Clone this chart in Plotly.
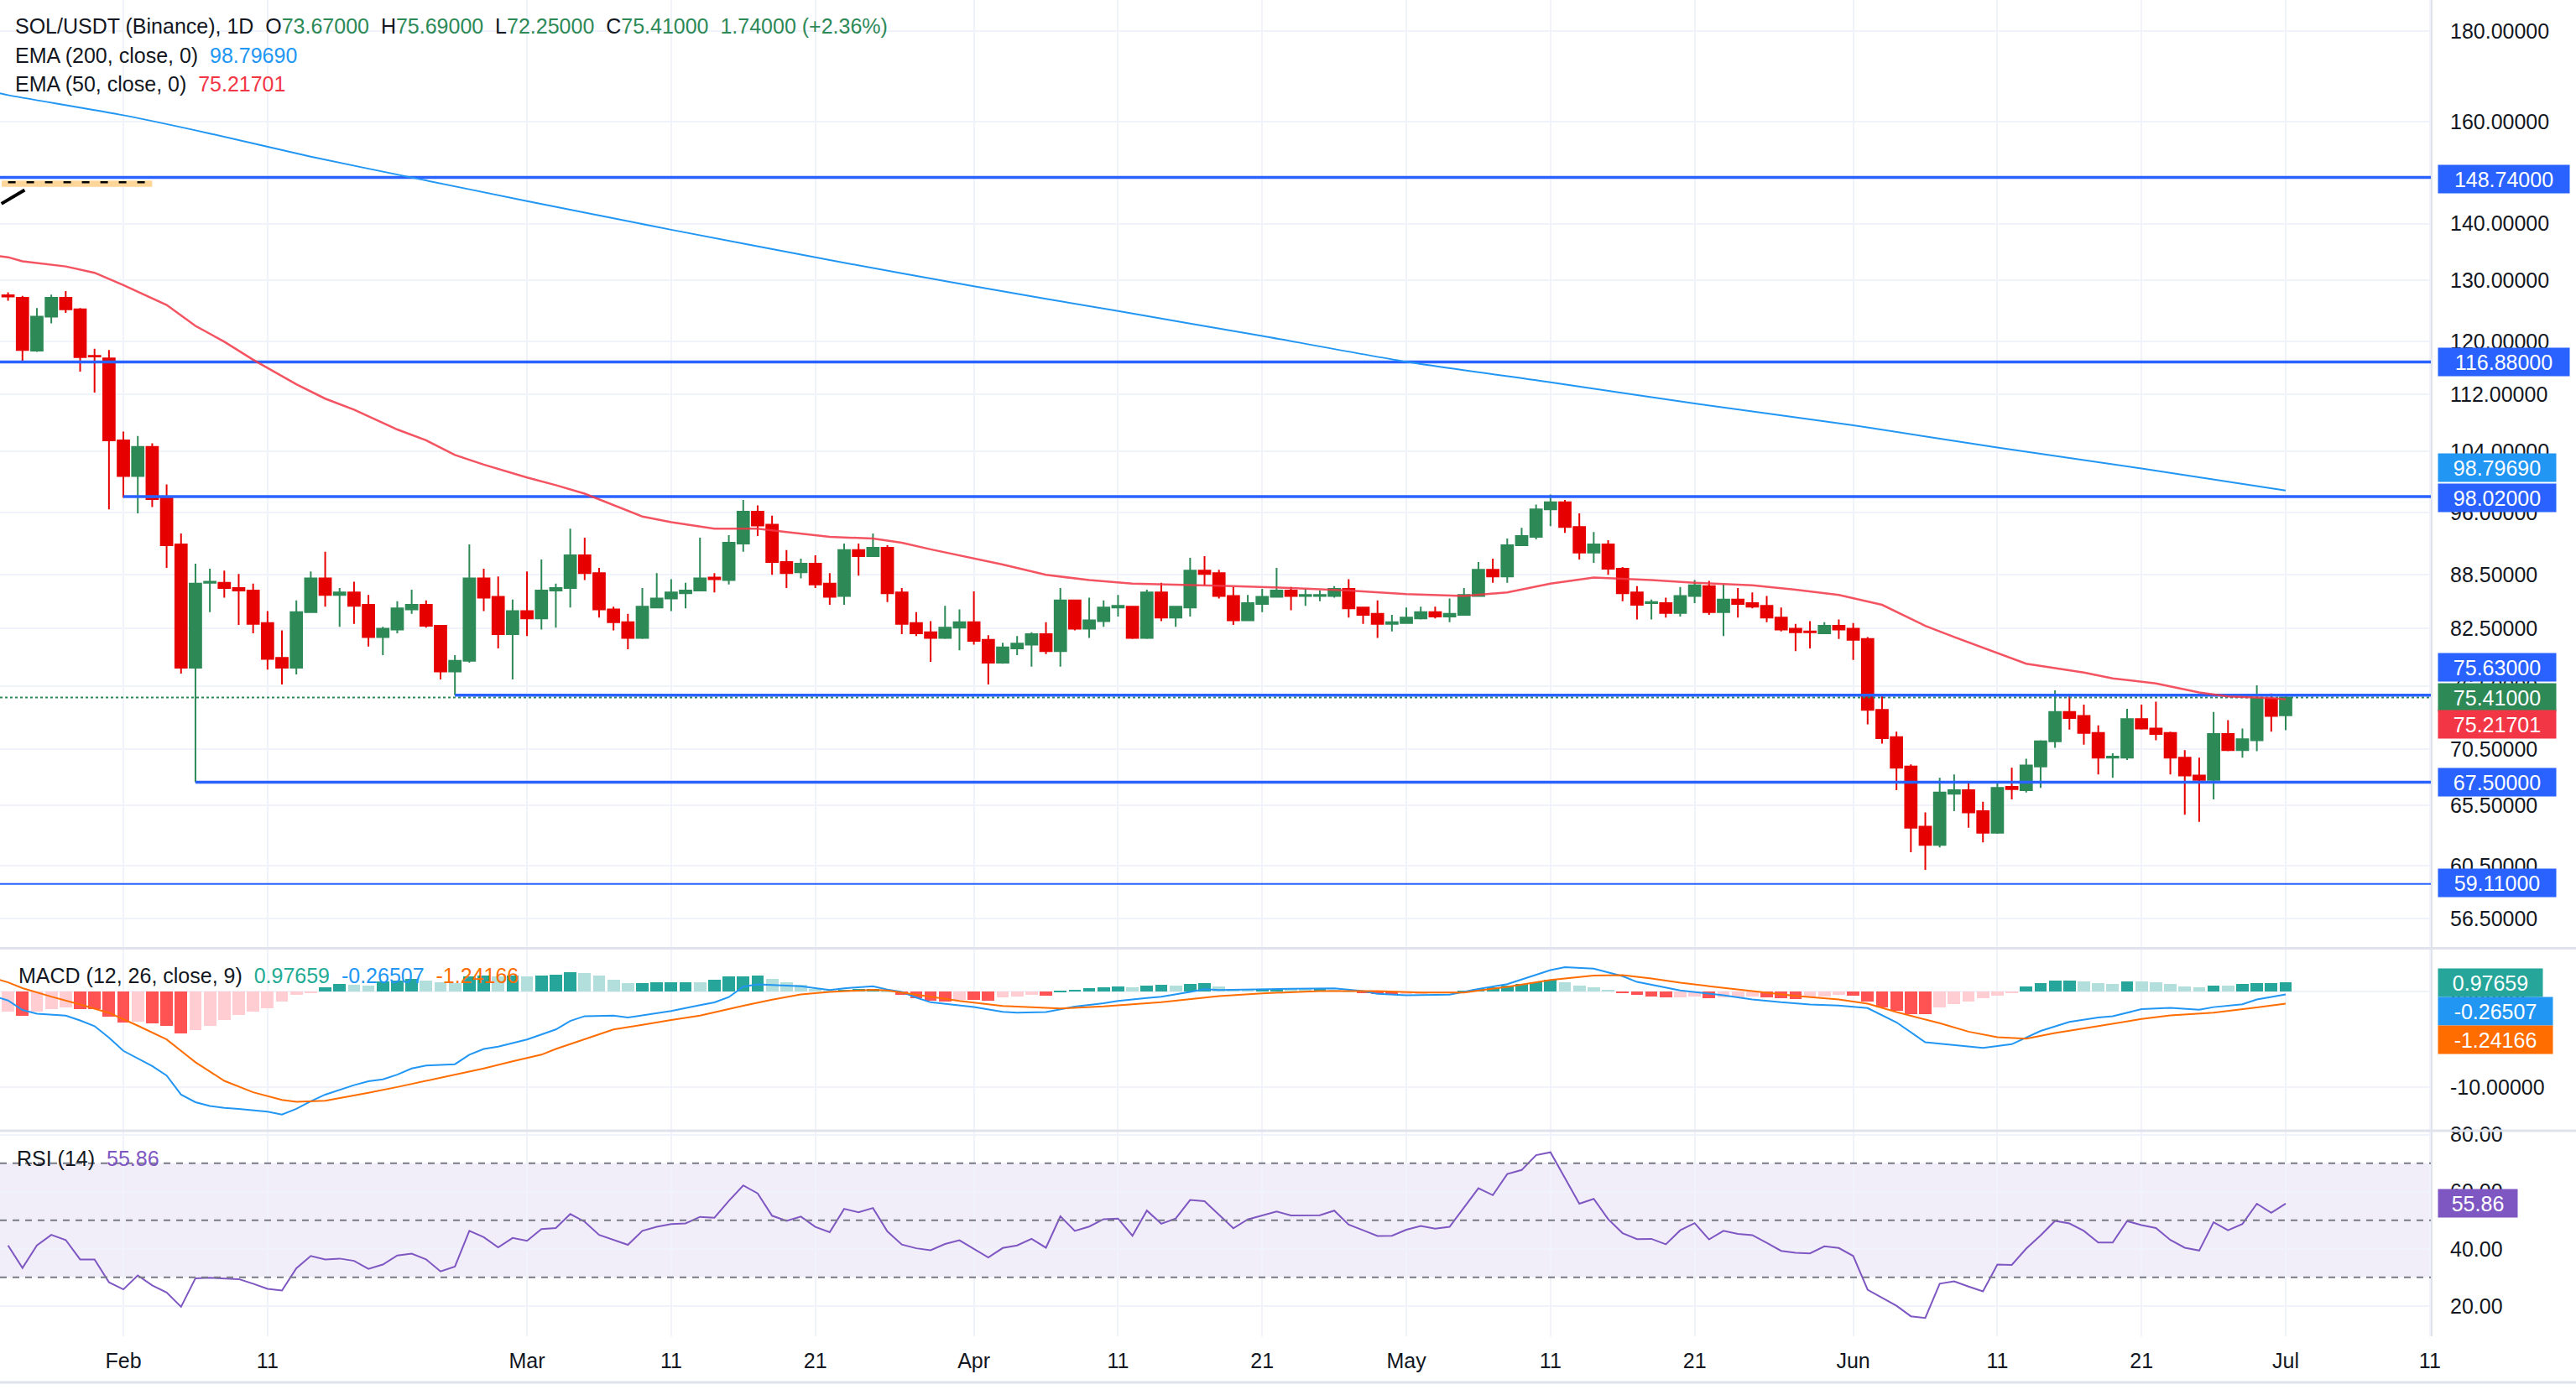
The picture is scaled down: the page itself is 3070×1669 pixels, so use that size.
import math
import pandas as pd
import plotly.graph_objects as go

START = pd.Timestamp("2026-01-24")

# ---------------- OHLC (daily, from 2026-01-24) ----------------
opens = [127.5, 127.1, 118.6, 124.0, 127.1, 125.2, 117.8, 117.4, 105.5, 100.7,
         104.6, 97.8, 92.1, 78.4, 87.6, 87.6, 87.0, 86.7, 83.1, 79.4,
         78.4, 84.3, 88.1, 86.2, 86.5, 85.1, 81.6, 82.4, 84.6, 85.1,
         82.8, 78.0, 79.1, 88.1, 86.0, 81.9, 84.4, 83.6, 86.7, 87.0,
         90.8, 88.7, 84.6, 83.2, 81.5, 84.8, 85.8, 86.4, 86.7, 88.2,
         87.9, 92.2, 96.1, 94.5, 90.0, 88.8, 89.8, 87.5, 86.1, 91.4,
         90.7, 91.7, 86.5, 83.1, 82.1, 81.5, 82.6, 83.2, 81.3, 78.9,
         80.4, 80.8, 81.9, 80.1, 85.6, 82.5, 83.3, 84.8, 84.9, 81.5,
         86.5, 83.7, 84.8, 89.0, 88.7, 86.1, 83.4, 85.2, 86.0, 86.7,
         86.1, 86.1, 86.1, 86.9, 84.8, 84.1, 83.0, 83.1, 83.6, 84.3,
         83.8, 84.0, 86.1, 89.1, 88.3, 92.0, 93.0, 96.4, 97.3, 94.2,
         91.1, 92.1, 89.2, 86.5, 85.3, 85.3, 84.2, 86.1, 87.2, 84.3,
         85.7, 85.3, 85.0, 83.7, 82.5, 82.2, 82.0, 82.8, 82.5, 81.4,
         74.2, 71.6, 68.9, 63.7, 62.2, 66.5, 66.8, 65.0, 63.2, 67.1,
         66.8, 68.9, 71.2, 74.0, 73.6, 72.0, 69.7, 69.7, 73.3, 72.4,
         72.0, 69.7, 68.1, 67.7, 71.9, 70.4, 71.3, 75.3, 73.67]
highs = [128.0, 127.4, 125.4, 127.6, 128.2, 125.4, 118.9, 118.7, 106.7, 106.1,
         105.1, 99.6, 93.4, 89.8, 89.2, 89.0, 88.6, 87.5, 84.4, 82.3,
         85.6, 88.9, 91.2, 87.0, 87.7, 86.2, 82.7, 85.5, 86.8, 85.6,
         82.9, 79.7, 92.1, 89.2, 88.3, 85.7, 88.9, 90.3, 87.5, 94.0,
         92.9, 89.3, 84.9, 84.1, 87.0, 88.7, 88.0, 87.6, 92.9, 88.7,
         93.2, 97.6, 96.9, 95.6, 91.4, 90.4, 90.8, 88.7, 92.2, 92.2,
         93.4, 92.0, 87.0, 84.3, 83.3, 85.0, 84.6, 86.6, 81.8, 81.0,
         81.7, 82.1, 83.2, 87.0, 85.7, 85.9, 85.6, 86.2, 85.0, 86.8,
         87.6, 84.95, 90.5, 90.7, 89.1, 87.1, 86.2, 86.9, 89.3, 87.1,
         86.9, 86.7, 87.2, 88.0, 84.9, 85.6, 84.0, 84.8, 84.9, 84.9,
         85.8, 87.0, 90.0, 90.4, 92.8, 94.1, 97.0, 98.3, 97.6, 95.9,
         93.6, 92.6, 89.4, 87.2, 85.7, 85.9, 87.1, 87.9, 87.8, 87.4,
         87.0, 86.5, 86.1, 84.8, 83.0, 83.3, 83.2, 83.5, 83.1, 81.6,
         75.7, 72.1, 69.1, 64.9, 67.9, 68.2, 67.5, 65.8, 67.5, 68.8,
         69.6, 71.3, 76.1, 75.6, 74.7, 72.7, 70.1, 74.3, 74.7, 75.0,
         72.1, 70.4, 69.7, 74.0, 73.2, 72.4, 76.6, 75.8, 75.69]
lows = [126.6, 117.0, 118.4, 122.9, 124.6, 115.4, 112.3, 96.4, 97.9, 95.9,
        96.7, 89.3, 77.8, 67.5, 84.3, 85.9, 82.9, 82.0, 78.2, 76.7,
        77.7, 84.2, 84.9, 82.7, 83.0, 80.6, 79.7, 82.0, 84.1, 82.6,
        77.2, 75.63, 78.9, 84.4, 80.4, 77.2, 81.7, 82.4, 82.6, 84.8,
        87.9, 83.7, 82.3, 80.3, 81.4, 84.7, 84.4, 84.7, 86.6, 86.5,
        87.4, 91.2, 93.1, 88.5, 87.0, 88.1, 87.0, 85.1, 85.1, 88.4,
        90.6, 85.4, 81.9, 81.7, 79.0, 81.4, 80.2, 80.8, 76.7, 78.8,
        79.7, 78.5, 79.8, 78.5, 82.3, 81.5, 82.7, 83.8, 81.4, 81.4,
        83.3, 82.7, 83.8, 87.3, 85.8, 82.9, 83.3, 84.3, 85.9, 84.5,
        85.0, 85.5, 85.9, 83.7, 83.0, 81.5, 82.2, 83.0, 83.5, 83.6,
        83.2, 83.9, 86.0, 87.6, 87.6, 91.9, 92.7, 94.3, 93.5, 90.3,
        89.9, 88.5, 85.5, 83.5, 83.5, 83.7, 83.8, 85.3, 84.0, 81.7,
        83.7, 84.7, 83.2, 82.2, 80.1, 80.4, 81.9, 81.4, 79.2, 72.8,
        71.0, 66.8, 61.6, 60.2, 62.0, 65.0, 63.6, 62.4, 63.1, 66.0,
        66.6, 67.0, 70.6, 72.3, 70.9, 68.2, 67.9, 69.5, 72.3, 71.3,
        68.2, 64.7, 64.1, 66.0, 70.3, 69.7, 70.3, 72.1, 72.25]
closes = [127.3, 118.7, 124.0, 127.1, 125.2, 117.6, 117.7, 105.5, 100.7, 104.6,
          97.7, 92.0, 78.4, 87.5, 87.7, 87.0, 86.7, 83.0, 79.3, 78.4,
          84.3, 88.1, 86.2, 86.5, 85.0, 81.6, 82.5, 84.7, 85.1, 82.8,
          78.0, 79.1, 88.1, 85.9, 81.9, 84.4, 83.6, 86.7, 87.0, 90.8,
          88.7, 84.6, 83.2, 81.5, 84.9, 85.8, 86.5, 86.7, 88.1, 88.0,
          92.3, 96.1, 94.4, 90.0, 88.7, 89.8, 87.4, 86.0, 91.4, 90.7,
          91.7, 86.4, 83.0, 82.0, 81.5, 82.6, 83.2, 81.2, 78.9, 80.5,
          80.9, 81.9, 80.1, 85.6, 82.5, 83.4, 84.8, 85.0, 81.5, 86.5,
          83.7, 84.9, 89.0, 88.6, 86.1, 83.4, 85.3, 86.0, 86.7, 86.1,
          86.2, 86.2, 86.9, 84.7, 84.0, 83.0, 83.2, 83.7, 84.3, 83.8,
          84.1, 86.2, 89.1, 88.3, 92.0, 93.1, 96.4, 97.3, 94.2, 91.1,
          92.1, 89.2, 86.4, 85.1, 85.4, 84.2, 86.1, 87.3, 84.3, 85.7,
          85.2, 84.9, 83.7, 82.4, 82.1, 82.1, 82.8, 82.4, 81.3, 74.2,
          71.5, 68.8, 63.6, 62.2, 66.6, 66.8, 64.9, 63.2, 67.0, 66.9,
          69.0, 71.2, 74.0, 73.4, 72.0, 69.7, 69.8, 73.3, 72.4, 71.9,
          69.7, 68.1, 67.7, 71.9, 70.4, 71.4, 75.3, 73.6, 75.41]

# ---------------- EMA lines (day offset, value) ----------------
ema200_days = [-1, 0, 8, 14, 21, 28, 36, 46, 57, 67, 77, 87, 97, 107, 117, 128, 138, 148, 158]
ema200_vals = [166.3, 165.6, 161.3, 157.5, 152.8, 148.7, 144.2, 138.9, 133.5, 129.0,
               124.9, 120.9, 116.9, 113.8, 110.7, 107.6, 104.5, 101.7, 98.7969]
ema50_days = [-1, 0, 1, 4, 6, 8, 11, 13, 15, 17, 20, 22, 24, 27, 29, 31, 33, 36, 38, 40,
              44, 46, 49, 52, 54, 57, 60, 62, 64, 67, 69, 72, 75, 78, 81, 85, 89, 93, 97, 101,
              104, 107, 110, 114, 117, 121, 124, 127, 130, 133, 135, 138, 140, 144, 146, 149,
              152, 154, 157, 158]
ema50_vals = [134.3, 134.0, 133.3, 132.4, 131.3, 129.2, 125.9, 122.5, 120.0, 117.2,
              113.5, 111.4, 109.8, 107.0, 105.5, 103.5, 102.2, 100.5, 99.5, 98.4,
              95.5, 94.8, 94.0, 94.0, 93.6, 93.0, 92.8, 92.3, 91.5, 90.4,
              89.7, 88.5, 87.9, 87.5, 87.4, 87.2, 87.0, 86.7, 86.3, 86.1,
              86.5, 87.5, 88.2, 87.9, 87.6, 87.3, 86.8, 86.2, 85.1, 82.8,
              81.6, 79.9, 78.8, 77.9, 77.3, 76.8, 75.9, 75.5, 75.35, 75.21701]

# ---------------- horizontal levels ----------------
level_values = [148.74, 116.88, 98.02, 75.63, 67.50, 59.11]
level_start = [-1, -1, 8, 31, 13, -1]
level_widths = [3.5, 3.5, 3.5, 3.5, 3.5, 2]
last_price = 75.41

# ---------------- MACD ----------------
macd_hist = [-2.09, -2.5, -2.09, -1.85, -1.65, -1.8, -1.85, -2.6, -3.2, -3.1,
             -3.3, -3.6, -4.4, -4.0, -3.6, -3.0, -2.4, -2.05, -1.7, -1.0,
             -0.3, -0.05, 0.47, 0.8, 0.75, 0.7, 1.1, 1.15, 1.35, 1.15,
             1.05, 0.95, 1.6, 1.75, 1.65, 1.7, 1.65, 1.75, 1.8, 2.03,
             1.97, 1.7, 1.3, 0.9, 0.95, 0.98, 1.0, 1.02, 0.98, 1.24,
             1.6, 1.65, 1.68, 1.35, 1.0, 0.75, 0.35, 0.12, 0.25, 0.3,
             0.35, 0.1, -0.35, -0.7, -0.95, -1.0, -0.8, -0.85, -0.95, -0.6,
             -0.5, -0.35, -0.38, 0.15, 0.25, 0.4, 0.5, 0.55, 0.45, 0.65,
             0.75, 0.7, 0.85, 0.9, 0.6, 0.3, 0.25, 0.3, 0.35, 0.3,
             0.28, 0.3, 0.25, 0.05, -0.1, -0.25, -0.3, -0.25, -0.2, -0.15,
             -0.1, 0.05, 0.3, 0.45, 0.65, 0.8, 1.05, 1.26, 1.0, 0.7,
             0.5, 0.25, -0.1, -0.3, -0.45, -0.6, -0.55, -0.45, -0.65, -0.6,
             -0.55, -0.5, -0.6, -0.7, -0.75, -0.6, -0.45, -0.35, -0.4, -1.0,
             -1.6, -2.0, -2.3, -2.35, -1.6, -1.3, -1.0, -0.7, -0.4, -0.1,
             0.55, 0.95, 1.15, 1.2, 1.1, 0.95, 0.8, 1.12, 1.1, 1.05,
             0.8, 0.6, 0.5, 0.7, 0.68, 0.8, 0.95, 0.96, 0.97659]
macd_days = [-1, 0, 1, 2, 4, 5, 6, 7, 8, 9,
             10, 11, 12, 13, 14, 15, 16, 18, 19, 20,
             21, 22, 24, 25, 26, 27, 28, 29, 31, 32,
             33, 34, 36, 38, 39, 40, 42, 43, 45, 46,
             48, 49, 50, 51, 52, 54, 55, 57, 58, 60,
             61, 62, 63, 64, 66, 67, 69, 70, 72, 74,
             76, 77, 79, 80, 82, 83, 84, 87, 89, 92,
             94, 95, 97, 100, 102, 104, 105, 107, 108, 110,
             112, 113, 116, 117, 119, 121, 123, 125, 127, 129,
             131, 133, 135, 137, 139, 141, 143, 145, 146, 148,
             150, 152, 153, 155, 156, 158]
macd_vals = [-0.45, -0.9, -1.9, -2.3, -2.5, -3.0, -3.6, -4.8, -6.2, -7.0,
             -7.8, -8.8, -10.8, -11.6, -12.0, -12.2, -12.3, -12.6, -12.9, -12.3,
             -11.5, -10.8, -9.8, -9.4, -9.2, -8.7, -8.05, -7.75, -7.6, -6.6,
             -6.0, -5.75, -5.0, -3.95, -3.05, -2.55, -2.5, -2.7, -2.2, -2.0,
             -1.4, -1.1, -0.55, 0.55, 0.8, 0.65, 0.6, 0.2, 0.38, 0.59,
             0.24, 0.0, -0.6, -1.09, -1.38, -1.59, -2.1, -2.18, -2.12, -1.55,
             -1.2, -0.94, -0.65, -0.5, 0.0, 0.29, 0.2, 0.24, 0.32, 0.38,
             0.09, -0.21, -0.35, -0.29, 0.3, 0.82, 1.3, 2.29, 2.59, 2.44,
             1.65, 1.05, 0.15, 0.0, -0.35, -0.79, -1.09, -1.32, -1.44, -1.7,
             -3.2, -5.3, -5.59, -5.88, -5.5, -4.1, -3.15, -2.7, -2.56, -1.82,
             -1.68, -1.88, -1.6, -1.3, -0.79, -0.26507]
signal_days = [-1, 0, 1, 3, 5, 7, 9, 11, 12, 13,
               15, 17, 19, 20, 22, 24, 25, 27, 29, 31,
               33, 35, 37, 38, 40, 42, 44, 46, 48, 50,
               51, 53, 55, 57, 58, 60, 61, 63, 66, 69,
               73, 76, 80, 84, 87, 91, 95, 98, 101, 104,
               107, 110, 112, 114, 116, 118, 121, 124, 127, 129,
               131, 134, 136, 138, 140, 142, 145, 148, 150, 153,
               156, 158]
signal_vals = [1.45, 1.0, 0.4, -0.5, -1.32, -2.2, -3.55, -5.0, -6.2, -7.4,
               -9.35, -10.55, -11.35, -11.55, -11.45, -10.9, -10.6, -10.0, -9.35, -8.76,
               -8.05, -7.3, -6.6, -6.0, -4.95, -3.95, -3.47, -2.95, -2.5, -1.8,
               -1.45, -0.82, -0.26, 0.0, 0.09, 0.22, 0.15, -0.3, -0.94, -1.47,
               -1.74, -1.53, -1.09, -0.45, -0.15, 0.09, 0.09, -0.06, -0.06, 0.53,
               1.26, 1.71, 1.76, 1.41, 0.97, 0.6, 0.09, -0.41, -0.79, -1.24,
               -2.12, -3.29, -4.18, -4.76, -4.91, -4.32, -3.59, -2.85, -2.47, -2.18,
               -1.64, -1.24166]

# ---------------- RSI ----------------
rsi = [41.2, 33.3, 41.2, 44.9, 43.1, 36.3, 36.3, 28.3, 25.8, 30.7,
       27.2, 24.7, 19.7, 29.7, 29.9, 29.6, 29.4, 27.8, 26.0, 25.4,
       33.2, 37.5, 36.3, 36.6, 35.8, 33.0, 34.5, 37.7, 38.3, 36.3,
       32.1, 33.8, 46.3, 44.1, 40.5, 43.8, 42.8, 46.9, 47.3, 52.2,
       49.5, 44.9, 43.1, 41.4, 46.3, 47.7, 48.7, 48.9, 51.2, 50.9,
       56.8, 62.2, 59.4, 51.6, 49.8, 51.3, 47.7, 45.8, 54.0, 52.8,
       54.3, 46.1, 41.5, 40.2, 39.5, 41.7, 43.0, 40.1, 37.0, 40.3,
       41.2, 43.5, 40.4, 51.4, 46.3, 47.8, 50.4, 50.6, 44.6, 53.4,
       48.8, 50.6, 57.1, 56.7, 51.9, 47.2, 50.3, 51.7, 53.1, 51.7,
       51.7, 51.8, 53.4, 48.5, 46.5, 44.5, 44.6, 46.7, 48.0, 47.1,
       47.7, 54.4, 61.2, 58.8, 66.2, 67.6, 72.8, 73.8, 64.7, 55.8,
       57.5, 50.4, 45.5, 43.4, 43.5, 41.6, 46.5, 49.0, 43.3, 46.3,
       45.2, 44.8, 42.1, 39.3, 38.6, 38.4, 40.9, 40.3, 37.5, 25.7,
       22.9, 20.1, 16.4, 15.8, 27.8, 28.6, 26.8, 25.1, 34.5, 34.4,
       40.1, 44.7, 49.8, 48.9, 46.3, 42.2, 42.2, 49.7, 48.3, 47.3,
       43.1, 40.4, 39.4, 49.3, 46.5, 48.7, 55.8, 52.6, 55.86]
rsi_levels = [70, 50, 30]

# ---------------- axis ticks ----------------
price_ticks = [180, 160, 140, 130, 120, 112, 104, 96, 88.5, 82.5, 76.5, 70.5, 65.5, 60.5, 56.5]
macd_ticks = [0, -10]
rsi_ticks = [80, 60, 40, 20]
x_tick_dates = ["2026-02-01", "2026-02-11", "2026-03-01", "2026-03-11", "2026-03-21",
                "2026-04-01", "2026-04-11", "2026-04-21", "2026-05-01", "2026-05-11",
                "2026-05-21", "2026-06-01", "2026-06-11", "2026-06-21", "2026-07-01",
                "2026-07-11"]
x_tick_text = ["Feb", "11", "Mar", "11", "21", "Apr", "11", "21", "May", "11", "21",
               "Jun", "11", "21", "Jul", "11"]

# drawing in top-left corner (partially visible)
draw_rect_days = [-0.44, 10.0]
draw_rect_prices = [146.9, 148.1]
draw_dash_days = [0.0, 9.8]
draw_dash_price = 147.8
draw_diag_days = [-0.46, 1.15]
draw_diag_prices = [143.7, 146.3]

# ---------------- styling ----------------
GREEN = "#2D8A57"
RED = "#E60000"
LEVEL_BLUE = "#2962FF"
EMA200_C = "#2196F3"
EMA50_C = "#F23645"
MACD_C = "#2196F3"
SIG_C = "#FF6D00"
RSI_C = "#7E57C2"
GRID = "#F0F3FA"
SEP = "#E0E3EB"
TXT = "#131722"
FONT = "Liberation Sans, Arial, sans-serif"
FS = 25

W, H = 3070, 1669
MR, MB = 173, 76
PW = W - MR
PH = H - MB


def d(off):
    return START + pd.Timedelta(days=off)


def py(px):
    return (PH - px) / PH


dates = [d(i) for i in range(len(opens))]
X0 = d(-0.5588)
X1 = d(168.07)

fig = go.Figure()

# top-left drawing
fig.add_trace(go.Scatter(
    x=[d(draw_rect_days[0]), d(draw_rect_days[1]), d(draw_rect_days[1]), d(draw_rect_days[0]), d(draw_rect_days[0])],
    y=[draw_rect_prices[0], draw_rect_prices[0], draw_rect_prices[1], draw_rect_prices[1], draw_rect_prices[0]],
    mode="lines", fill="toself", fillcolor="#FFD699", line=dict(width=0), hoverinfo="skip"))
fig.add_trace(go.Scatter(x=[d(v) for v in draw_dash_days], y=[draw_dash_price] * 2, mode="lines",
                         line=dict(color="black", width=2.5, dash="9px,13px"), hoverinfo="skip"))
fig.add_trace(go.Scatter(x=[d(v) for v in draw_diag_days], y=draw_diag_prices, mode="lines",
                         line=dict(color="black", width=4), hoverinfo="skip"))

# last price dotted line
fig.add_trace(go.Scatter(x=[X0, X1], y=[last_price] * 2, mode="lines",
                         line=dict(color=GREEN, width=2, dash="dot"), hoverinfo="skip"))

# levels
for v, s, w in zip(level_values, level_start, level_widths):
    fig.add_trace(go.Scatter(x=[d(s) if s >= 0 else X0, X1], y=[v, v], mode="lines",
                             line=dict(color=LEVEL_BLUE, width=w), hoverinfo="skip"))

# EMAs
fig.add_trace(go.Scatter(x=[d(v) for v in ema200_days], y=ema200_vals, mode="lines",
                         line=dict(color=EMA200_C, width=2, shape="spline", smoothing=0.6), hoverinfo="skip"))
fig.add_trace(go.Scatter(x=[d(v) for v in ema50_days], y=ema50_vals, mode="lines",
                         line=dict(color="rgba(242,54,69,0.85)", width=2.5), hoverinfo="skip"))

# candles
fig.add_trace(go.Candlestick(
    x=dates, open=opens, high=highs, low=lows, close=closes,
    increasing=dict(line=dict(color=GREEN, width=2), fillcolor=GREEN),
    decreasing=dict(line=dict(color=RED, width=2), fillcolor=RED),
    whiskerwidth=0, hoverinfo="skip"))

# MACD histogram colours (TradingView rule)
hist_colors = []
for i, h in enumerate(macd_hist):
    prev = macd_hist[i - 1] if i > 0 else h
    if h >= 0:
        hist_colors.append("#26A69A" if h > prev else "#B2DFDB")
    else:
        hist_colors.append("#FF5252" if h < prev else "#FFCDD2")

fig.add_trace(go.Bar(x=dates, y=macd_hist, marker=dict(color=hist_colors, line=dict(width=0)),
                     width=0.86 * 86400000, yaxis="y2", hoverinfo="skip"))
fig.add_trace(go.Scatter(x=[d(v) for v in macd_days], y=macd_vals, mode="lines",
                         line=dict(color=MACD_C, width=2), yaxis="y2", hoverinfo="skip"))
fig.add_trace(go.Scatter(x=[d(v) for v in signal_days], y=signal_vals, mode="lines",
                         line=dict(color=SIG_C, width=2), yaxis="y2", hoverinfo="skip"))

# RSI
fig.add_trace(go.Scatter(x=dates, y=rsi, mode="lines", line=dict(color=RSI_C, width=2),
                         yaxis="y3", hoverinfo="skip"))

shapes = [
    dict(type="rect", xref="paper", x0=0, x1=1, yref="y3", y0=30, y1=70,
         fillcolor="rgba(126,87,194,0.10)", line=dict(width=0), layer="below"),
]
for lv in rsi_levels:
    shapes.append(dict(type="line", xref="paper", x0=0, x1=1, yref="y3", y0=lv, y1=lv,
                       line=dict(color="#787B86", width=2, dash="8px,7px")))
# pane separators & frame
for px in [1130.5, 1348]:
    shapes.append(dict(type="line", xref="paper", x0=0, x1=W / PW, yref="paper", y0=py(px), y1=py(px),
                       line=dict(color=SEP, width=3)))
shapes.append(dict(type="line", xref="paper", x0=1 + 1 / PW, x1=1 + 1 / PW, yref="paper", y0=0, y1=1,
                   line=dict(color=SEP, width=2)))
shapes.append(dict(type="line", xref="paper", x0=0, x1=W / PW, yref="paper", y0=py(1648), y1=py(1648),
                   line=dict(color=SEP, width=3)))

annotations = []
sp = "\u00a0"


def legend(text, x_px, y_px):
    annotations.append(dict(text=text, xref="paper", yref="paper", x=x_px / PW, y=py(y_px),
                            xanchor="left", yanchor="middle", showarrow=False,
                            font=dict(family=FONT, size=FS, color=TXT)))


def col(c, t):
    return f"<span style='color:{c}'>{t}</span>"


legend("SOL/USDT (Binance), 1D" + sp * 2 + "O" + col(GREEN, "73.67000") + sp * 2 + "H" + col(GREEN, "75.69000")
       + sp * 2 + "L" + col(GREEN, "72.25000") + sp * 2 + "C" + col(GREEN, "75.41000") + sp * 2
       + col(GREEN, "1.74000 (+2.36%)"), 16, 31)
legend("EMA (200, close, 0)" + sp * 2 + col(EMA200_C, "98.79690"), 16, 66)
legend("EMA (50, close, 0)" + sp * 2 + col(EMA50_C, "75.21701"), 16, 100)
legend("MACD (12, 26, close, 9)" + sp * 2 + col("#22AB94", "0.97659") + sp * 2 + col(MACD_C, "-0.26507")
       + sp * 2 + col(SIG_C, "-1.24166"), 20, 1163)
legend("RSI (14)" + sp * 2 + col(RSI_C, "55.86"), 18, 1381)

# right-axis value labels: (value, text, colour, yshift, width, axis)
axis_labels = [
    (148.74, "148.74000", LEVEL_BLUE, -2, 156, "y"),
    (116.88, "116.88000", LEVEL_BLUE, 0, 156, "y"),
    (98.7969, "98.79690", EMA200_C, 27, 140, "y"),
    (98.02, "98.02000", LEVEL_BLUE, -1, 140, "y"),
    (75.63, "75.63000", LEVEL_BLUE, 33, 140, "y"),
    (75.41, "75.41000", GREEN, 0, 140, "y"),
    (75.21701, "75.21701", EMA50_C, -30, 140, "y"),
    (67.50, "67.50000", LEVEL_BLUE, 0, 140, "y"),
    (59.11, "59.11000", LEVEL_BLUE, 1, 140, "y"),
    (0.97659, "0.97659", "#26A69A", 0, 124, "y2"),
    (-0.26507, "-0.26507", MACD_C, -20, 136, "y2"),
    (-1.24166, "-1.24166", SIG_C, -43, 136, "y2"),
    (55.86, "55.86", RSI_C, 0, 94, "y3"),
]
for v, t, c, ys, wdt, ax in axis_labels:
    yv = math.log10(v) if ax == "y" else v
    annotations.append(dict(text=t, xref="paper", x=1, xanchor="left", xshift=8, yref=ax, y=yv,
                            yanchor="middle", yshift=ys, showarrow=False, bgcolor=c, width=wdt, height=33,
                            borderpad=0, align="center", font=dict(family=FONT, size=FS, color="white")))

axis_common = dict(side="right", anchor="x", showgrid=True, gridcolor=GRID, gridwidth=2,
                   zeroline=False, showline=False, ticks="", ticklabelstandoff=22,
                   tickfont=dict(family=FONT, size=FS, color=TXT), fixedrange=True)

fig.update_layout(
    width=W, height=H,
    margin=dict(l=0, r=MR, t=0, b=MB, autoexpand=False),
    paper_bgcolor="white", plot_bgcolor="white",
    showlegend=False, hovermode=False,
    boxgap=0.2, boxgroupgap=0, bargap=0,
    font=dict(family=FONT, size=FS, color=TXT),
    xaxis=dict(type="date", range=[X0, X1], domain=[0, 1], anchor="y3",
               tickvals=x_tick_dates, ticktext=x_tick_text, showgrid=True, gridcolor=GRID, gridwidth=2,
               zeroline=False, showline=False, ticks="", ticklabelstandoff=12,
               tickfont=dict(family=FONT, size=FS, color=TXT), rangeslider=dict(visible=False)),
    yaxis=dict(type="log", domain=[py(1130), 1], range=[math.log10(54.37), math.log10(187.5)],
               tickvals=price_ticks, ticktext=[f"{v:.5f}" for v in price_ticks], **axis_common),
    yaxis2=dict(domain=[py(1347), py(1131)], range=[-14.51, 4.54],
                tickvals=macd_ticks, ticktext=[f"{v:.5f}" for v in macd_ticks], **axis_common),
    yaxis3=dict(domain=[0, py(1349)], range=[9.4, 81.06],
                tickvals=rsi_ticks, ticktext=[f"{v:.2f}" for v in rsi_ticks], **axis_common),
    shapes=shapes, annotations=annotations,
)

fig.write_html("out.html")
